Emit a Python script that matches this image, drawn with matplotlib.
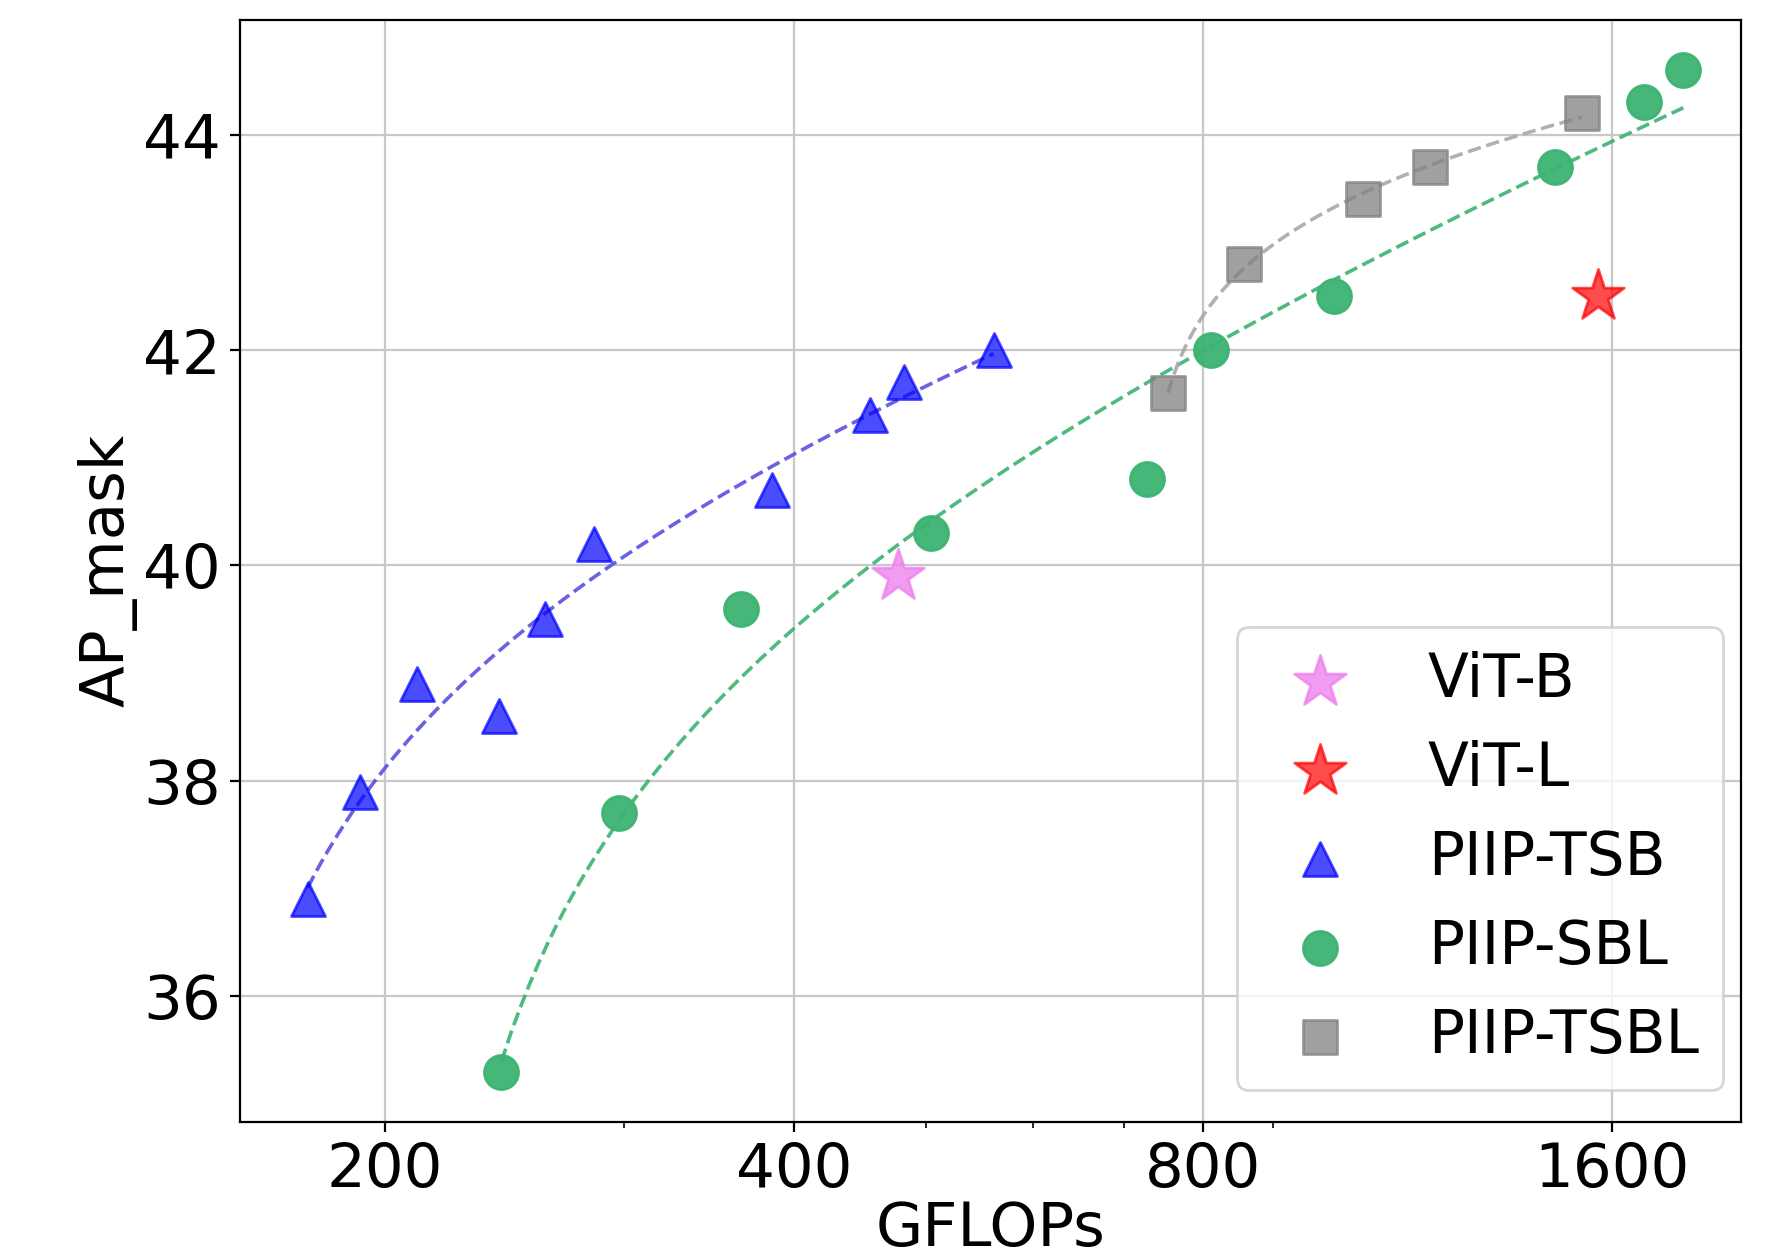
import numpy as np
import matplotlib
matplotlib.use("Agg")
import matplotlib.pyplot as plt
from matplotlib.ticker import FixedLocator, ScalarFormatter, NullFormatter

# ---- data ----
vitb_x = [477]
vitb_y = [39.9]
vitl_x = [1563]
vitl_y = [42.5]

tsb_x = [175.5, 191.7, 211.3, 242.8, 262.3, 285.3, 385.6, 455, 482, 561]
tsb_y = [36.9, 37.9, 38.9, 38.6, 39.5, 40.2, 40.7, 41.4, 41.7, 42.0]

sbl_x = [243.7, 297.6, 365.5, 504.6, 727, 810.6, 999, 1453, 1688, 1805]
sbl_y = [35.3, 37.7, 39.6, 40.3, 40.8, 42.0, 42.5, 43.7, 44.3, 44.6]

tsbl_x = [754, 857, 1049, 1175, 1520]
tsbl_y = [41.6, 42.8, 43.4, 43.7, 44.2]

xticks = [200, 400, 800, 1600]
yticks = [36, 38, 40, 42, 44]


def log_fit(x, y):
    x = np.asarray(x, float)
    y = np.asarray(y, float)
    best = None
    for c in np.linspace(0, x.min() * 0.9995, 3000):
        lx = np.log(x - c)
        b, a = np.polyfit(lx, y, 1)
        sse = np.sum((a + b * lx - y) ** 2)
        if best is None or sse < best[0]:
            best = (sse, a, b, c)
    _, a, b, c = best
    xs = np.linspace(x.min(), x.max(), 400)
    return xs, a + b * np.log(xs - c)


plt.rcParams['font.family'] = ['DejaVu Sans']
plt.rcParams['font.size'] = 22

fig = plt.figure(figsize=(8.89, 6.28), dpi=200)
ax = fig.add_axes([0.135, 0.107, 0.844, 0.877])

ax.scatter(vitb_x, vitb_y, marker='*', s=380, color='violet', alpha=0.8, label='ViT-B', zorder=3)
ax.scatter(vitl_x, vitl_y, marker='*', s=380, color='red', alpha=0.7, label='ViT-L', zorder=3)
ax.scatter(tsb_x, tsb_y, marker='^', s=150, color='blue', alpha=0.7, label='PIIP-TSB', zorder=3)
ax.scatter(sbl_x, sbl_y, marker='o', s=150, color='mediumseagreen', alpha=0.95, label='PIIP-SBL', zorder=3)
ax.scatter(tsbl_x, tsbl_y, marker='s', s=150, color='gray', alpha=0.75, label='PIIP-TSBL', zorder=3)

for xx, yy, col in [(tsb_x, tsb_y, '#5a50e0'), (sbl_x, sbl_y, 'mediumseagreen'), (tsbl_x, tsbl_y, 'darkgray')]:
    xs, ys = log_fit(xx, yy)
    ax.plot(xs, ys, linestyle='--', color=col, lw=1.3, alpha=0.9, zorder=2)

ax.set_xscale('log')
ax.set_xlim(156.5, 1989)
ax.xaxis.set_major_locator(FixedLocator(xticks))
ax.xaxis.set_major_formatter(ScalarFormatter())
ax.xaxis.set_minor_formatter(NullFormatter())
ax.set_yticks(yticks)
ax.grid(True, which='major', color='#c8c8c8', lw=0.8)
ax.set_axisbelow(True)

ax.set_xlabel('GFLOPs', labelpad=0)
ax.set_ylabel('AP_mask', labelpad=2)
ax.legend(loc='lower right', bbox_to_anchor=(0.988, 0.029), borderaxespad=0,
          fontsize=21.5)

fig.savefig('out.png', dpi=200)
